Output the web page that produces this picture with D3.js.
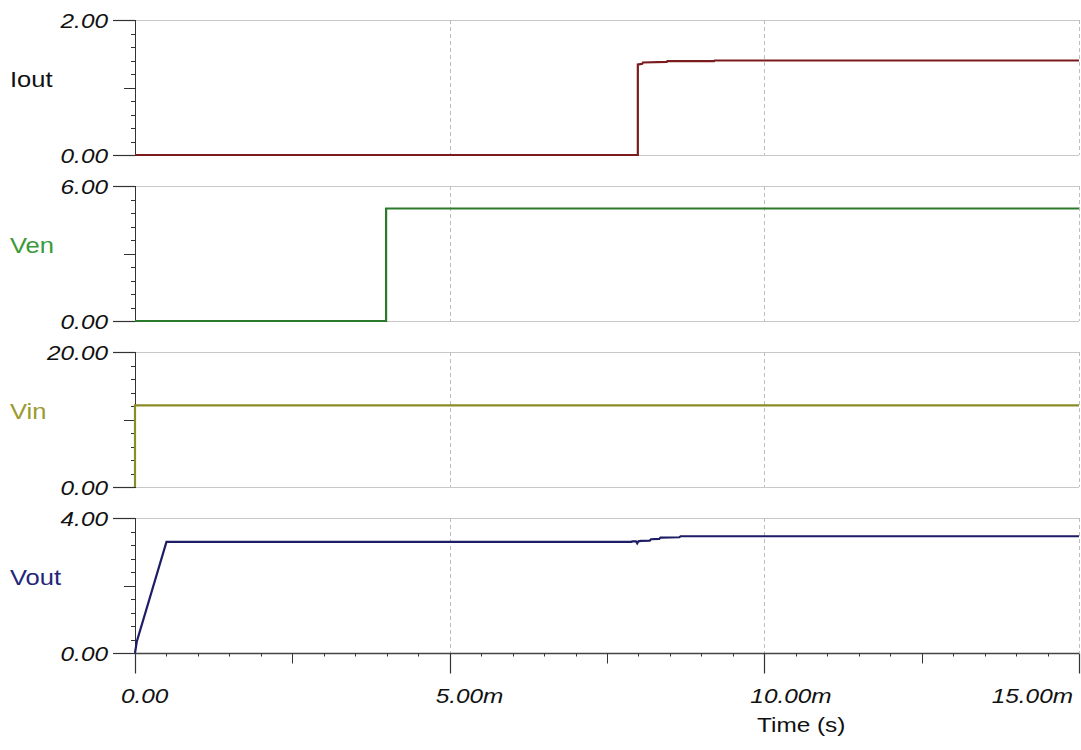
<!DOCTYPE html>
<html>
<head>
<meta charset="utf-8">
<script src="https://cdn.jsdelivr.net/npm/d3@7"></script>
<style>
  body { margin: 0; background: #fff; }
  text { font-family: "Liberation Sans", Arial, sans-serif; }
</style>
</head>
<body>
<svg id="chart" width="1081" height="750"></svg>
<script>
// time in ms
const timeTicks = [0, 5, 10, 15];
const timeTickLabels = ["0.00", "5.00m", "10.00m", "15.00m"];

const panelNames = ["Iout", "Ven", "Vin", "Vout"];
const panelMax = [2, 6, 20, 4];
const panelMaxLabels = ["2.00", "6.00", "20.00", "4.00"];

const ioutT = [0, 7.99, 7.99, 8.06, 8.07, 8.45, 8.46, 9.2, 9.21, 15];
const ioutV = [0, 0, 1.34, 1.35, 1.37, 1.38, 1.39, 1.39, 1.4, 1.4];

const venT = [0, 3.99, 3.99, 15];
const venV = [0, 0, 5.0, 5.0];

const vinT = [0, 0, 15];
const vinV = [0, 12.1, 12.1];

const voutT = [0, 0.03, 0.5, 7.89, 7.9, 7.96, 7.98, 8.0, 8.04, 8.18, 8.2, 8.33, 8.35, 8.65, 8.67, 15];
const voutV = [0, 0.35, 3.29, 3.29, 3.31, 3.31, 3.25, 3.31, 3.32, 3.33, 3.37, 3.38, 3.42, 3.43, 3.46, 3.46];

const lineColors = ["#7a1c1e", "#2b7a2b", "#8c8c26", "#1d1d66"];
const labelColors = ["#111111", "#3a9a3a", "#9a9a30", "#25257a"];

const series = [
  { t: ioutT, v: ioutV },
  { t: venT, v: venV },
  { t: vinT, v: vinV },
  { t: voutT, v: voutV }
];

const svg = d3.select("#chart");
const left = 135, right = 1079;
const panelTop0 = 20, panelPitch = 166, panelH = 135;
const stretch = 1.16;

const x = d3.scaleLinear().domain([0, 15]).range([left, right]);

// the reference text is a bit wider than plain Arial
function widen(sel) {
  sel.each(function() {
    const w = this.getComputedTextLength();
    d3.select(this).attr("textLength", w * stretch).attr("lengthAdjust", "spacingAndGlyphs");
  });
}

panelNames.forEach(function(name, i) {
  const top = panelTop0 + i * panelPitch;
  const bottom = top + panelH;
  const y = d3.scaleLinear().domain([0, panelMax[i]]).range([bottom, top]);
  const g = svg.append("g");

  // horizontal borders
  g.append("line").attr("x1", left).attr("x2", right)
    .attr("y1", top + 0.5).attr("y2", top + 0.5)
    .attr("stroke", "#c8c8c8");
  if (i < 3) {
    g.append("line").attr("x1", left).attr("x2", right)
      .attr("y1", bottom + 0.5).attr("y2", bottom + 0.5)
      .attr("stroke", "#c8c8c8");
  }

  // dashed verticals
  g.selectAll(".vgrid").data(timeTicks.slice(1)).enter().append("line")
    .attr("x1", d => Math.round(x(d)) + 0.5).attr("x2", d => Math.round(x(d)) + 0.5)
    .attr("y1", top).attr("y2", bottom)
    .attr("stroke", "#bdbdbd").attr("stroke-dasharray", "4,3");

  // y axis
  g.append("line").attr("x1", left + 0.5).attr("x2", left + 0.5)
    .attr("y1", top).attr("y2", bottom + 1)
    .attr("stroke", "#333");
  const minor = d3.range(1, 10).map(k => k * panelMax[i] / 10);
  g.selectAll(".ytick").data(minor).enter().append("line")
    .attr("x1", (d, k) => k === 4 ? left - 11 : left - 4).attr("x2", left)
    .attr("y1", d => Math.round(y(d)) + 0.5).attr("y2", d => Math.round(y(d)) + 0.5)
    .attr("stroke", "#333");
  [0, panelMax[i]].forEach(function(d) {
    g.append("line").attr("x1", left - 22).attr("x2", left)
      .attr("y1", Math.round(y(d)) + 0.5).attr("y2", Math.round(y(d)) + 0.5)
      .attr("stroke", "#333").attr("stroke-width", 1.2);
  });
  g.append("text").attr("x", 108).attr("y", y(panelMax[i]) + 8)
    .attr("text-anchor", "end").attr("font-style", "italic").attr("font-size", 21)
    .attr("fill", "#111").text(panelMaxLabels[i]).call(widen);
  g.append("text").attr("x", 108).attr("y", y(0) + 8)
    .attr("text-anchor", "end").attr("font-style", "italic").attr("font-size", 21)
    .attr("fill", "#111").text("0.00").call(widen);

  // panel label
  g.append("text").attr("x", 10).attr("y", (top + bottom) / 2 - 1)
    .attr("font-size", 22).attr("fill", labelColors[i]).text(name).call(widen);

  // trace
  const pts = series[i].t.map((t, k) => [t, series[i].v[k]]);
  g.append("path").datum(pts)
    .attr("d", d3.line().x(d => x(d[0])).y(d => y(d[1])))
    .attr("fill", "none").attr("stroke", lineColors[i]).attr("stroke-width", 2.2);
});

// x axis
const axisY = panelTop0 + 3 * panelPitch + panelH + 0.5;
const xa = svg.append("g");
xa.append("line").attr("x1", left).attr("x2", right)
  .attr("y1", axisY).attr("y2", axisY).attr("stroke", "#444").attr("stroke-width", 1.5);
const xMinor = d3.range(1, 30).map(k => k * 0.5).filter(d => d % 5 !== 0);
xa.selectAll(".xminor").data(xMinor).enter().append("line")
  .attr("x1", d => Math.round(x(d)) + 0.5).attr("x2", d => Math.round(x(d)) + 0.5)
  .attr("y1", axisY).attr("y2", d => d % 2.5 === 0 ? axisY + 10 : axisY + 3)
  .attr("stroke", "#333");
xa.selectAll(".xmajor").data(timeTicks).enter().append("line")
  .attr("x1", d => Math.round(x(d)) + 0.5).attr("x2", d => Math.round(x(d)) + 0.5)
  .attr("y1", axisY).attr("y2", axisY + 20)
  .attr("stroke", "#333").attr("stroke-width", 1.2);
xa.selectAll(".xlabel").data(timeTicks).enter().append("text")
  .attr("x", (d, k) => k === timeTicks.length - 1 ? right - 6 : x(d) - 14)
  .attr("y", 703)
  .attr("text-anchor", (d, k) => k === timeTicks.length - 1 ? "end" : "start")
  .attr("font-style", "italic").attr("font-size", 21).attr("fill", "#111")
  .text((d, k) => timeTickLabels[k]).call(widen);
xa.append("text").attr("x", 757).attr("y", 732)
  .attr("font-size", 21).attr("fill", "#111").text("Time (s)").call(widen);
</script>
</body>
</html>
